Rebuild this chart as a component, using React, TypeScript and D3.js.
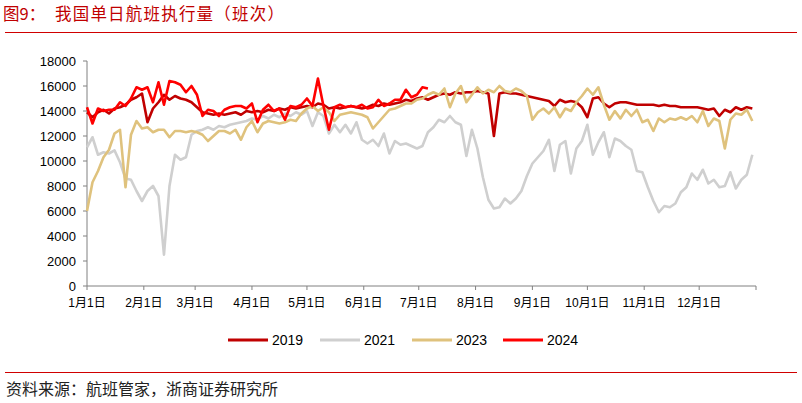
import React from "react";
import * as d3 from "d3";

// values sampled every 3 days, starting Jan 1
const STEP = 3;
const s2019 = [13900,13500,13900,14100,13800,14200,14300,14500,14900,15100,15400,13100,14200,14700,15300,14900,15200,15000,14900,14700,14300,13900,13800,13700,13800,13700,13800,13900,13700,14000,13900,
14000,13900,14100,14000,14200,14100,14300,14200,14300,14400,14300,14600,14500,14200,14300,14200,14300,14400,14300,14200,14300,14500,14400,14600,14500,14600,14700,14900,14800,15000,15100,
14900,15100,15300,15400,15300,15500,15400,15500,15500,15600,15500,15400,12000,15400,15500,15400,15400,15300,15200,15100,15000,14900,14800,14400,14900,14700,14800,14700,14300,13500,
15000,15100,14600,14300,14600,14700,14700,14600,14500,14500,14500,14500,14400,14500,14400,14400,14300,14300,14300,14300,14200,14100,14200,13600,14100,13900,14300,14100,14300,14200];

const s2021 = [11100,11900,10500,10700,10600,10850,9900,8600,8500,7600,6800,7600,8000,7200,2500,8000,10500,10100,10300,12100,12400,12500,12700,12500,12800,12700,12900,13000,13100,13200,13400,
13300,13600,13400,13700,13500,13800,13600,13900,13700,14000,12800,13900,13600,12200,12900,12300,12900,12200,13100,11700,11400,11700,11200,12200,10600,11600,11300,11400,11200,11000,11200,
12300,12700,13300,13100,13600,13100,12900,10400,12500,11000,8700,6900,6200,6300,7000,6600,7000,7600,8800,9800,10300,10800,11700,9200,11300,11600,9000,11000,11600,12900,
10500,11500,12300,10300,11800,11600,11200,10900,9200,9100,7900,6800,5900,6400,6300,6600,7500,7900,9000,8500,9300,8200,8500,7900,8000,9100,7800,8500,8900,10500];

const s2023 = [6000,8300,9200,10300,10900,12200,12500,7900,12100,13200,12600,12700,12300,12500,12500,11900,12400,12400,12300,12400,12300,12100,11600,12000,12400,12400,12200,12500,11700,12700,13200,
12300,13000,13200,13100,13000,13100,13300,13200,13800,14200,14400,14000,14300,13900,13200,13700,13800,13900,13800,13700,13500,12600,13100,13600,14100,14200,14400,14600,14600,14900,15000,
15300,15500,15300,15800,14300,15400,16000,14700,15300,15900,15400,15700,15500,16000,15600,15500,15800,15600,15200,13300,13900,14200,13800,14300,13500,14200,14000,14700,15200,15800,
15300,15900,14500,13300,14000,13400,14100,13600,14100,13100,13300,12400,13400,13100,13400,13300,13500,13300,13600,13100,14000,12800,13400,13200,11000,13300,13800,13700,14100,13200];

const s2024 = [14300,13000,14200,14000,14100,14100,14700,14400,15000,15900,15700,15900,14700,16300,14500,16400,16300,16100,15500,16000,15300,13600,14100,14000,13600,14100,14300,14400,14400,14200,14600,
13100,14100,14500,14000,14200,13300,14400,14300,14500,15000,14400,16600,14400,12500,14300,14500,14300,14400,14300,14500,14200,14300,14900,14400,14600,14900,14900,15700,15100,15300,15900,15800];

const yTicks = [0,2000,4000,6000,8000,10000,12000,14000,16000,18000];
const monthDays = [0,31,59,90,120,151,181,212,243,273,304,334];
const monthLabels = ["1月1日","2月1日","3月1日","4月1日","5月1日","6月1日","7月1日","8月1日","9月1日","10月1日","11月1日","12月1日"];
const seriesNames = ["2019","2021","2023","2024"];
const seriesColors = ["#C00000","#CFCFCF","#DFC27D","#FF0000"];
const seriesData = [s2019, s2021, s2023, s2024];

const LATIN = "'Liberation Sans', Arial, 'Noto Sans CJK SC', sans-serif";
const CJK = "'Noto Sans CJK SC', sans-serif";

export default function App() {
  const x = d3.scaleLinear().domain([0, 365]).range([87, 756]);
  const y = d3.scaleLinear().domain([0, 18000]).range([286, 61]);
  const line = d3.line<number>().x((_, i) => x(i * STEP)).y((v) => y(v)).curve(d3.curveLinear);
  const legendX = [228, 320, 412, 503];

  return (
    <svg width={802} height={403} style={{ position: "absolute", left: 0, top: 0, background: "#fff" }}>
      <rect width={802} height={403} fill="#fff" />
      <text x={3} y={20} fill="#C00000" fontFamily={CJK} fontSize={16.5}>图9：</text>
      <text x={55} y={20} fill="#C00000" fontFamily={CJK} fontSize={16.5} letterSpacing={1.2}>我国单日航班执行量（班次）</text>
      <line x1={5} x2={797} y1={32.5} y2={32.5} stroke="#D00000" strokeWidth={1.2} />

      {/* y axis */}
      <line x1={87} x2={87} y1={y(18000)} y2={y(0)} stroke="#808080" strokeWidth={1} />
      {yTicks.map((t) => (
        <g key={t}>
          <line x1={83} x2={87} y1={y(t)} y2={y(t)} stroke="#808080" />
          <text x={76} y={y(t)} dy="0.35em" textAnchor="end" fontFamily={LATIN} fontSize={13} fill="#000">{t}</text>
        </g>
      ))}
      {/* x axis */}
      <line x1={87} x2={756} y1={y(0)} y2={y(0)} stroke="#808080" strokeWidth={1} />
      {[...monthDays, 365].map((d) => (
        <line key={d} x1={x(d)} x2={x(d)} y1={y(0)} y2={y(0) + 4} stroke="#808080" />
      ))}
      {monthDays.map((d, i) => (
        <text key={d} x={x(d)} y={307} textAnchor="middle" fontFamily={LATIN} fontSize={12} fill="#000">{monthLabels[i]}</text>
      ))}

      {/* series */}
      {seriesData.map((s, k) => (
        <path key={k} d={line(s) || ""} fill="none" stroke={seriesColors[k]} strokeWidth={2.6} strokeLinejoin="round" />
      ))}

      {/* legend */}
      {seriesNames.map((n, k) => (
        <g key={n}>
          <line x1={legendX[k]} x2={legendX[k] + 40} y1={340} y2={340} stroke={seriesColors[k]} strokeWidth={3} />
          <text x={legendX[k] + 44} y={340} dy="0.35em" fontFamily={LATIN} fontSize={14} fill="#000">{n}</text>
        </g>
      ))}

      <line x1={5} x2={797} y1={372.5} y2={372.5} stroke="#D00000" strokeWidth={1.2} />
      <text x={6} y={395} fill="#222" fontFamily={CJK} fontSize={16}>资料来源：航班管家，浙商证券研究所</text>
    </svg>
  );
}
